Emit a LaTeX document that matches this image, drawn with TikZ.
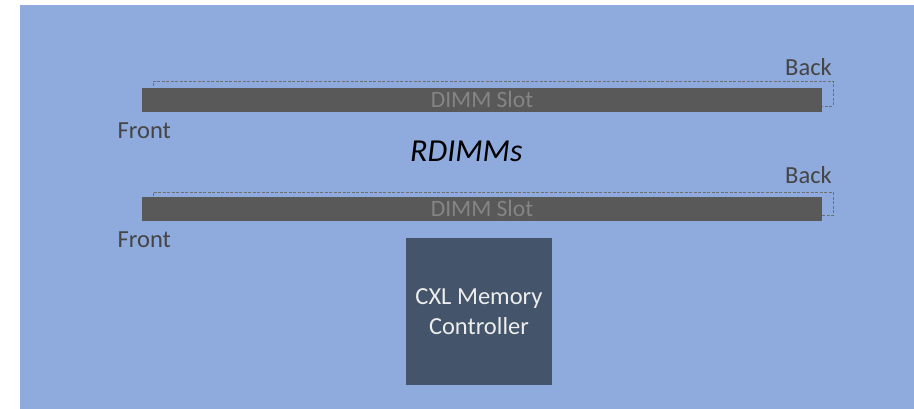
\documentclass[tikz,border=0pt]{standalone}
\usepackage{fontspec}
\setmainfont{Carlito}
\definecolor{bgblue}{HTML}{8FAADC}
\definecolor{slotgray}{HTML}{595959}
\definecolor{slottext}{HTML}{858585}
\definecolor{labelgray}{HTML}{454545}
\definecolor{dashgray}{HTML}{707070}
\definecolor{ctrlblue}{HTML}{44546A}
\definecolor{ctrltext}{HTML}{EDEDED}
\begin{document}
\begin{tikzpicture}[x=1pt,y=-1pt,
  slotbar/.style={fill=slotgray,draw=none,minimum width=680pt,minimum height=24.5pt,inner sep=0pt,anchor=north west},
  slotlabel/.style={text=slottext,font=\fontsize{23.5}{26}\selectfont,inner sep=0pt,anchor=base},
  sidelabel/.style={text=labelgray,font=\fontsize{24.5}{27}\selectfont,inner sep=0pt},
  outline/.style={draw=dashgray,line width=0.7pt,dash pattern=on 3pt off 1.5pt},
  ctrl/.style={fill=ctrlblue,draw=none,minimum width=145.5pt,minimum height=147pt,inner sep=0pt,anchor=north west,
    text=ctrltext,align=center,font=\fontsize{24.5}{30}\selectfont}]
\useasboundingbox (0,0) rectangle (914,409);
\fill[bgblue] (20,5) rectangle (914,409);
% slot 1
\node[slotbar] (bar1) at (142,87.5) {};
\draw[outline] (153,86) -- (153,81) -- (833,81) -- (833,106) -- (bar1.east |- 0,106);
\node[slotlabel] (slot1) at (482,107.3) {DIMM Slot};
\node[sidelabel,anchor=base east] (back1) at (832,76) {Back};
\node[sidelabel,anchor=base west] (front1) at (117.5,138.3) {Front};
% RDIMMs
\node[inner sep=0pt,anchor=base west,font=\fontsize{32}{35}\selectfont\itshape] (rdimm) at (410,161.7) {RDIMMs};
% slot 2
\node[slotbar] (bar2) at (142,196.7) {};
\draw[outline] (153,196) -- (153,192) -- (833,192) -- (833,215.7) -- (bar2.east |- 0,215.7);
\node[slotlabel] (slot2) at (482,216.5) {DIMM Slot};
\node[sidelabel,anchor=base east] (back2) at (832,184) {Back};
\node[sidelabel,anchor=base west] (front2) at (117.5,247.7) {Front};
% controller
\node[ctrl] (cxl) at (406,237.5) {CXL Memory\\Controller};
\end{tikzpicture}
\end{document}
